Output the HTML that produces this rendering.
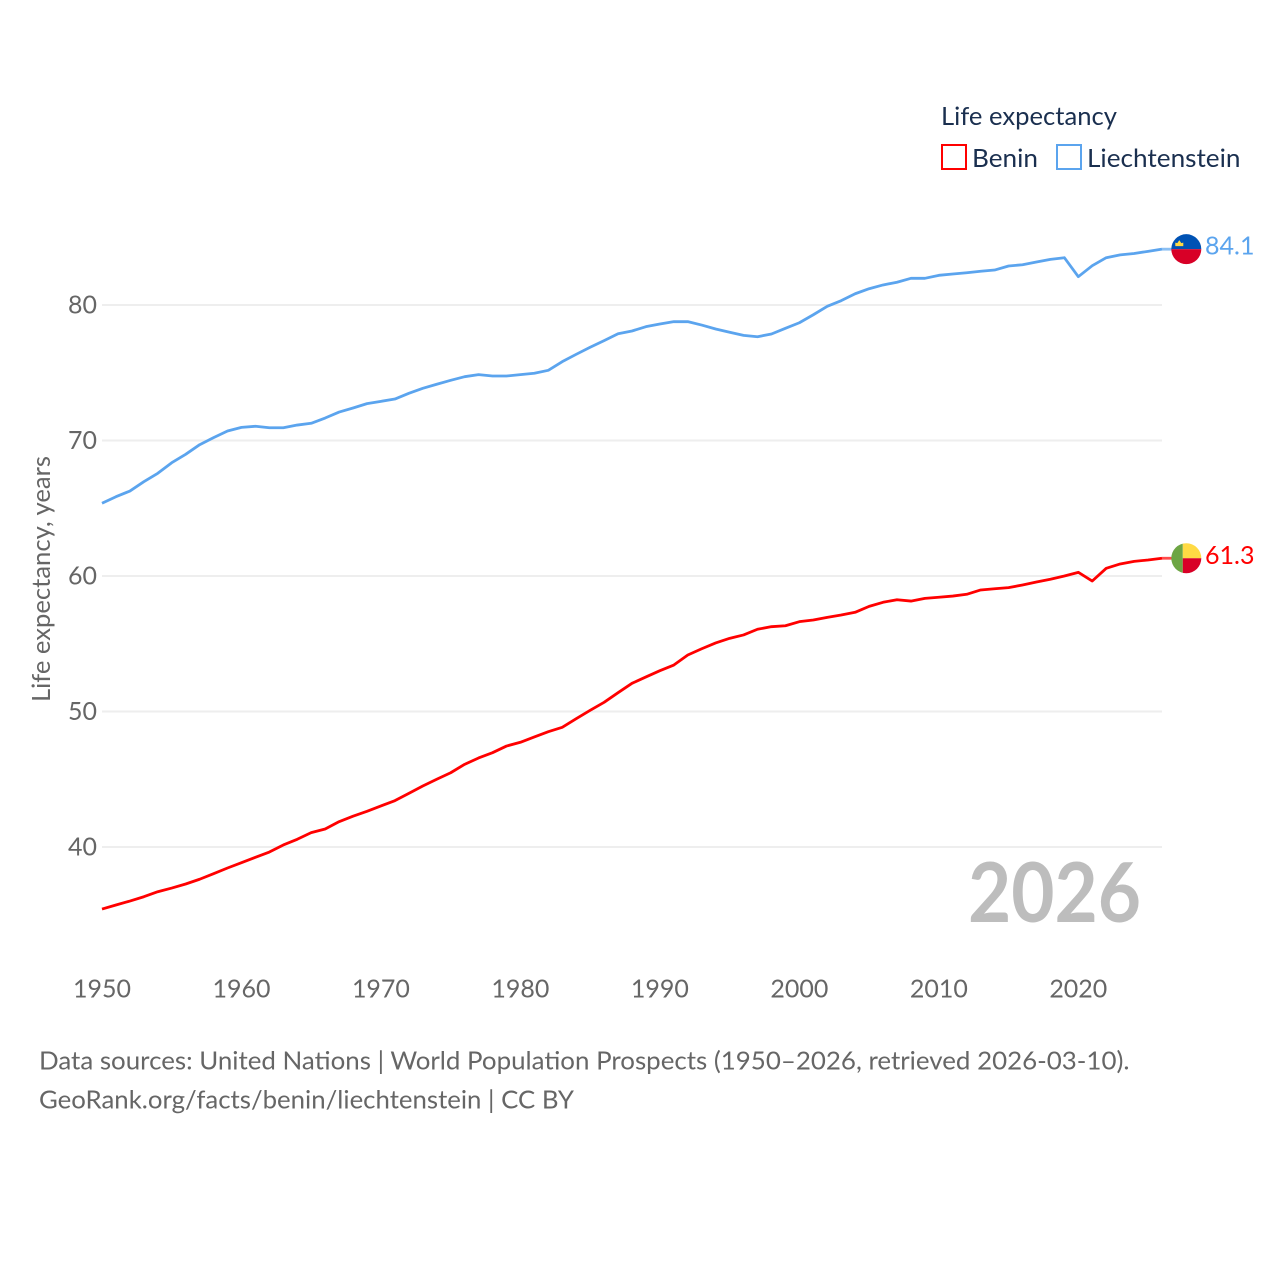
<!DOCTYPE html>
<html lang="en">
<head>
<meta charset="utf-8">
<title>Life expectancy: Benin and Liechtenstein</title>
<style>
  html, body { margin: 0; padding: 0; background: #fff; }
  svg { display: block; }
  text { font-family: "Lato", "Carlito", "Liberation Sans", sans-serif; }
</style>
</head>
<body>
<svg id="chart" xmlns="http://www.w3.org/2000/svg" width="1280" height="1280" viewBox="0 0 1280 1280">
  <defs>
    <clipPath id="flag-clip"><circle cx="0" cy="0" r="15"></circle></clipPath>
  </defs>
  <rect x="0" y="0" width="1280" height="1280" fill="#ffffff"></rect>

  <g id="grid"></g>
  <g id="y-ticks"></g>
  <g id="x-ticks"></g>
  <text transform="translate(50,702) rotate(-90)" font-size="25" fill="#666666" textLength="246" lengthAdjust="spacingAndGlyphs">Life expectancy, years</text>

  <text x="968" y="922" font-size="82" font-weight="700" fill="#bdbdbd" textLength="173" lengthAdjust="spacingAndGlyphs">2026</text>

  <g id="series"></g>

  <g>
    <text x="941" y="125" font-size="25.5" fill="#1a2f4f" textLength="176" lengthAdjust="spacingAndGlyphs">Life expectancy</text>
    <g>
      <rect x="942" y="145" width="24" height="24" fill="#ffffff" stroke="#ff0000" stroke-width="2"></rect>
      <text x="972" y="167" font-size="25.5" fill="#1a2f4f" textLength="66" lengthAdjust="spacingAndGlyphs">Benin</text>
    </g>
    <g>
      <rect x="1057" y="145" width="24" height="24" fill="#ffffff" stroke="#5ba4ee" stroke-width="2"></rect>
      <text x="1087" y="167" font-size="25.5" fill="#1a2f4f" textLength="153.5" lengthAdjust="spacingAndGlyphs">Liechtenstein</text>
    </g>
  </g>

  <g>
    <text x="39" y="1069.5" font-size="25.5" fill="#666666" textLength="1090.5" lengthAdjust="spacingAndGlyphs">Data sources: United Nations | World Population Prospects (1950–2026, retrieved 2026-03-10).</text>
    <text x="39" y="1108.5" font-size="25.5" fill="#666666" textLength="535" lengthAdjust="spacingAndGlyphs">GeoRank.org/facts/benin/liechtenstein | CC BY</text>
  </g>
</svg>

<script>
const years = [1950,1951,1952,1953,1954,1955,1956,1957,1958,1959,1960,1961,1962,1963,1964,1965,1966,1967,1968,1969,1970,1971,1972,1973,1974,1975,1976,1977,1978,1979,1980,1981,1982,1983,1984,1985,1986,1987,1988,1989,1990,1991,1992,1993,1994,1995,1996,1997,1998,1999,2000,2001,2002,2003,2004,2005,2006,2007,2008,2009,2010,2011,2012,2013,2014,2015,2016,2017,2018,2019,2020,2021,2022,2023,2024,2025,2026];
const beninValues = [35.42,35.72,36.01,36.33,36.70,36.97,37.27,37.62,38.03,38.45,38.84,39.24,39.63,40.15,40.57,41.06,41.33,41.87,42.27,42.63,43.03,43.42,43.96,44.50,45.00,45.48,46.10,46.57,46.96,47.45,47.73,48.12,48.51,48.83,49.47,50.09,50.68,51.39,52.08,52.55,53.01,53.43,54.17,54.63,55.06,55.40,55.65,56.07,56.26,56.33,56.63,56.75,56.95,57.12,57.32,57.76,58.06,58.25,58.15,58.35,58.43,58.52,58.65,58.97,59.06,59.14,59.34,59.56,59.76,60.00,60.27,59.63,60.57,60.89,61.08,61.18,61.31];
const liechtensteinValues = [65.37,65.85,66.27,66.96,67.58,68.36,68.98,69.69,70.21,70.70,70.97,71.05,70.94,70.94,71.14,71.27,71.66,72.10,72.40,72.72,72.89,73.06,73.48,73.85,74.15,74.44,74.71,74.86,74.76,74.76,74.86,74.96,75.18,75.82,76.36,76.88,77.37,77.88,78.08,78.40,78.60,78.77,78.77,78.52,78.23,77.99,77.76,77.66,77.86,78.28,78.69,79.28,79.90,80.32,80.83,81.20,81.48,81.68,81.97,81.97,82.19,82.29,82.38,82.49,82.58,82.88,82.97,83.17,83.37,83.49,82.09,82.90,83.49,83.70,83.80,83.96,84.12];
const yTickValues = [40,50,60,70,80];
const xTickValues = [1950,1960,1970,1980,1990,2000,2010,2020];
const beninEndLabel = "61.3";
const liechtensteinEndLabel = "84.1";

const NS = "http://www.w3.org/2000/svg";
function xScale(year) { return 102 + (year - 1950) * (1162 - 102) / 76; }
function yScale(value) { return 847 - (value - 40) * (847 - 305) / 40; }
function make(tag, attrs, parent) {
  const el = document.createElementNS(NS, tag);
  for (const k in attrs) el.setAttribute(k, attrs[k]);
  parent.appendChild(el);
  return el;
}

const gridGroup = document.getElementById("grid");
const yTickGroup = document.getElementById("y-ticks");
yTickValues.forEach(function (v) {
  const line = make("line", { x1: 102, x2: 1162, y1: yScale(v), y2: yScale(v), stroke: "#eeeeee", "stroke-width": 2 }, gridGroup);
  
  
  const label = make("text", { x: 97, y: yScale(v) + 8.5, "text-anchor": "end", "font-size": 25.5, fill: "#666666", textLength: 29, lengthAdjust: "spacingAndGlyphs" }, yTickGroup);
  label.textContent = String(v);
  
  
});

const xTickGroup = document.getElementById("x-ticks");
xTickValues.forEach(function (yr) {
  const label = make("text", { x: xScale(yr), y: 997.5, "text-anchor": "middle", "font-size": 25.5, fill: "#666666", textLength: 58, lengthAdjust: "spacingAndGlyphs" }, xTickGroup);
  label.textContent = String(yr);
  
  
});

const seriesGroup = document.getElementById("series");
function drawSeries(values, color) {
  const pts = values.map(function (v, i) { return xScale(years[i]).toFixed(2) + "," + yScale(v).toFixed(2); }).join(" ");
  const line = make("polyline", { points: pts, fill: "none", stroke: color, "stroke-width": 2.8, "stroke-linejoin": "round" }, seriesGroup);
  return line;
}
const beninLine = drawSeries(beninValues, "#ff0000");


const liechtensteinLine = drawSeries(liechtensteinValues, "#5ba4ee");



function drawEnd(values, color, text, labelOffset) {
  const last = values[values.length - 1];
  const y = yScale(last);
  const g = make("g", {}, seriesGroup);
  make("line", { x1: 1162, x2: 1172, y1: y, y2: y, stroke: color, "stroke-width": 2.8, opacity: 0.7 }, g);
  const flag = make("g", { transform: "translate(1186.3," + y + ")", "clip-path": "url(#flag-clip)" }, g);
  const label = make("text", { x: 1205, y: y + labelOffset, "font-size": 25.5, fill: color, textLength: 49.5, lengthAdjust: "spacingAndGlyphs" }, g);
  label.textContent = text;
  return { group: g, flag: flag, label: label };
}

const beninEnd = drawEnd(beninValues, "#ff0000", beninEndLabel, 6);






make("rect", { x: -16, y: -16, width: 12.5, height: 32, fill: "#6da544" }, beninEnd.flag);
make("rect", { x: -3.5, y: -16, width: 20, height: 16, fill: "#ffda44" }, beninEnd.flag);
make("rect", { x: -3.5, y: 0, width: 20, height: 16, fill: "#d80027" }, beninEnd.flag);

const liechtensteinEnd = drawEnd(liechtensteinValues, "#5ba4ee", liechtensteinEndLabel, 5.5);






make("rect", { x: -16, y: -16, width: 32, height: 16, fill: "#0052b4" }, liechtensteinEnd.flag);
make("rect", { x: -16, y: 0, width: 32, height: 16, fill: "#d80027" }, liechtensteinEnd.flag);
make("path", { d: "M-11,-3 L-11,-6.5 L-9,-6 L-7,-9 L-5,-6 L-3,-6.5 L-3,-3 Z", fill: "#ffda44" }, liechtensteinEnd.flag);
</script>
</body>
</html>
